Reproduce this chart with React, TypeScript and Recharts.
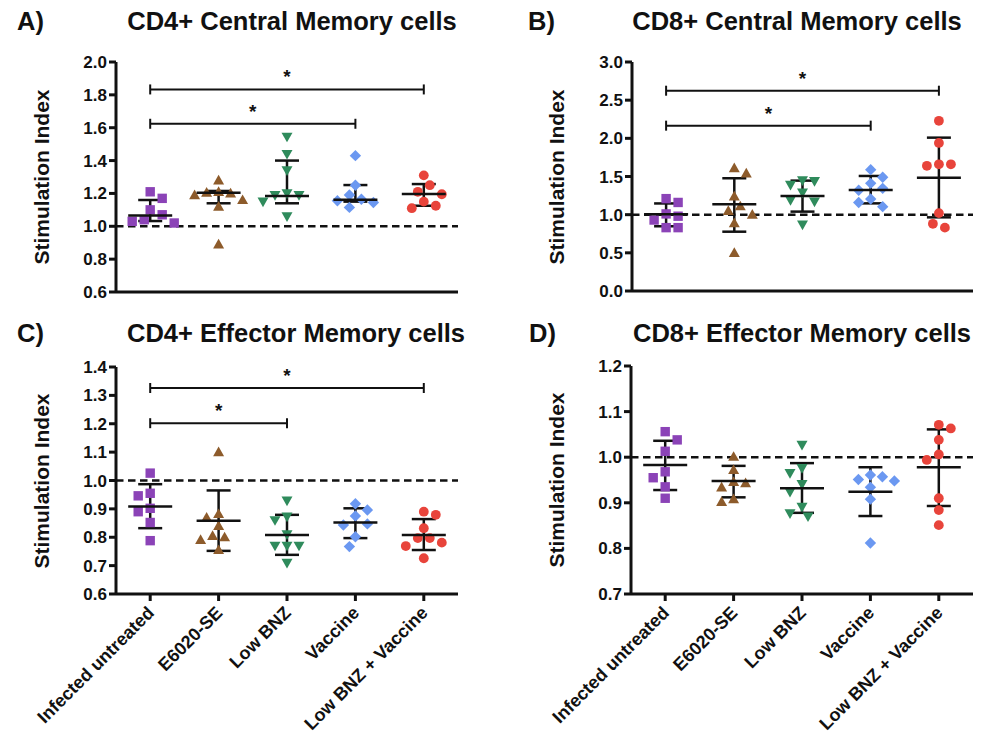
import React from 'react';
import { ScatterChart, Scatter, XAxis, YAxis, ReferenceLine, ErrorBar } from 'recharts';

const FONT = '"Liberation Sans", Arial, Helvetica, sans-serif';
const INK = '#111';

const groups = ['Infected untreated', 'E6020-SE', 'Low BNZ', 'Vaccine', 'Low BNZ + Vaccine'];
const groupColors = ['#8B43B7', '#8D5B2B', '#2F8B5C', '#6B98F1', '#E8443B'];
const groupMarkers = ['square', 'triangle', 'triangleDown', 'diamond', 'circle'];
const groupTicks = [0, 1, 2, 3, 4];

// A) CD4+ central memory
const cd4CmValues = [
  [1.21, 1.17, 1.1, 1.07, 1.04, 1.03, 1.02],
  [1.28, 1.21, 1.205, 1.2, 1.19, 1.16, 1.12, 0.89],
  [1.545, 1.44, 1.34, 1.2, 1.19, 1.19, 1.15, 1.06],
  [1.43, 1.25, 1.19, 1.165, 1.155, 1.145, 1.115],
  [1.31, 1.25, 1.21, 1.195, 1.15, 1.125, 1.11],
];
const cd4CmMean = [1.065, 1.204, 1.184, 1.162, 1.197];
const cd4CmLow = [1.032, 1.14, 1.14, 1.15, 1.125];
const cd4CmHigh = [1.16, 1.215, 1.4, 1.251, 1.257];
const cd4CmTicks = [0.6, 0.8, 1.0, 1.2, 1.4, 1.6, 1.8, 2.0];
const cd4CmBrackets = [
  { from: 0, to: 4, y: 1.833 },
  { from: 0, to: 3, y: 1.624 },
];

// B) CD8+ central memory
const cd8CmValues = [
  [1.21, 1.16, 1.01, 0.98, 0.93, 0.83, 0.83],
  [1.61, 1.54, 1.24, 1.11, 1.05, 1.0, 0.89, 0.5],
  [1.45, 1.44, 1.39, 1.29, 1.19, 1.17, 0.87],
  [1.59, 1.49, 1.41, 1.345, 1.32, 1.205, 1.16, 1.105],
  [2.23, 1.94, 1.66, 1.66, 1.64, 1.02, 0.88, 0.83],
];
const cd8CmMean = [1.005, 1.136, 1.245, 1.323, 1.485];
const cd8CmLow = [0.848, 0.777, 1.04, 1.148, 0.965];
const cd8CmHigh = [1.147, 1.477, 1.446, 1.507, 2.009];
const cd8CmTicks = [0, 0.5, 1.0, 1.5, 2.0, 2.5, 3.0];
const cd8CmBrackets = [
  { from: 0, to: 4, y: 2.624 },
  { from: 0, to: 3, y: 2.166 },
];

// C) CD4+ effector memory
const cd4EmValues = [
  [1.026, 0.955, 0.946, 0.902, 0.89, 0.852, 0.788],
  [1.1, 0.882, 0.869, 0.84, 0.805, 0.8, 0.791, 0.755],
  [0.929, 0.873, 0.86, 0.81, 0.77, 0.77, 0.77, 0.71],
  [0.918, 0.896, 0.875, 0.847, 0.843, 0.802, 0.767],
  [0.89, 0.879, 0.832, 0.797, 0.797, 0.781, 0.769, 0.726],
];
const cd4EmMean = [0.908, 0.858, 0.808, 0.852, 0.808];
const cd4EmLow = [0.832, 0.752, 0.738, 0.797, 0.755];
const cd4EmHigh = [0.987, 0.965, 0.879, 0.902, 0.864];
const cd4EmTicks = [0.6, 0.7, 0.8, 0.9, 1.0, 1.1, 1.2, 1.3, 1.4];
const cd4EmBrackets = [
  { from: 0, to: 4, y: 1.326 },
  { from: 0, to: 2, y: 1.202 },
];

// D) CD8+ effector memory
const cd8EmValues = [
  [1.056, 1.038, 1.013, 0.968, 0.955, 0.935, 0.91],
  [1.001, 0.972, 0.946, 0.943, 0.934, 0.908, 0.902],
  [1.027, 0.976, 0.965, 0.941, 0.924, 0.891, 0.877, 0.87],
  [0.961, 0.957, 0.951, 0.948, 0.934, 0.908, 0.812],
  [1.071, 1.063, 1.038, 1.006, 0.994, 0.91, 0.884, 0.851],
];
const cd8EmMean = [0.983, 0.948, 0.932, 0.924, 0.978];
const cd8EmLow = [0.928, 0.912, 0.878, 0.871, 0.893];
const cd8EmHigh = [1.036, 0.981, 0.987, 0.978, 1.061];
const cd8EmTicks = [0.7, 0.8, 0.9, 1.0, 1.1, 1.2];

// spread points sideways so they don't sit on top of each other (max +-24px)
function swarmOffsets(values: number[], pxPerUnit: number) {
  const minDist = 11;
  const step = 6;
  const order = values.map((_, k) => k).sort((a, b) => values[b] - values[a]);
  const placed: { px: number; py: number }[] = [];
  const dx = values.map(() => 0);
  order.forEach((k, n) => {
    const py = -values[k] * pxPerUnit;
    let best = 0;
    let bestDist = -1;
    for (let s = 0; s <= 8; s++) {
      const mag = Math.ceil(s / 2) * step;
      const cand = s === 0 ? 0 : s % 2 === n % 2 ? mag : -mag;
      const d = placed.reduce((m, p) => Math.min(m, Math.hypot(p.px - cand, p.py - py)), Infinity);
      if (d >= minDist) {
        best = cand;
        break;
      }
      if (d > bestDist) {
        bestDist = d;
        best = cand;
      }
    }
    dx[k] = best;
    placed.push({ px: best, py });
  });
  return dx;
}

const makeMarker = (kind: string, color: string) => (props: any) => {
  const { cx, cy } = props;
  if (cx == null || cy == null) return null;
  if (kind === 'square') return <rect x={cx - 4.7} y={cy - 4.7} width={9.4} height={9.4} fill={color} />;
  if (kind === 'triangle')
    return <polygon points={`${cx},${cy - 5.6} ${cx + 5.5},${cy + 4.1} ${cx - 5.5},${cy + 4.1}`} fill={color} />;
  if (kind === 'triangleDown')
    return <polygon points={`${cx},${cy + 5.6} ${cx + 5.5},${cy - 4.1} ${cx - 5.5},${cy - 4.1}`} fill={color} />;
  if (kind === 'diamond')
    return <polygon points={`${cx},${cy - 5.7} ${cx + 5.7},${cy} ${cx},${cy + 5.7} ${cx - 5.7},${cy}`} fill={color} />;
  return <circle cx={cx} cy={cy} r={4.9} fill={color} />;
};

const MeanLine = (props: any) => {
  const { cx, cy } = props;
  if (cx == null || cy == null) return null;
  return <line x1={cx - 22} x2={cx + 22} y1={cy} y2={cy} stroke={INK} strokeWidth={2.5} />;
};

const SlantTick = (props: any) => {
  const { x, y, payload } = props;
  const ax = x + 5;
  const ay = y + 11;
  return (
    <text
      x={ax}
      y={ay}
      textAnchor="end"
      transform={`rotate(-45 ${ax} ${ay})`}
      fontSize={18}
      fontWeight={700}
      fill={INK}
      fontFamily={FONT}
    >
      {groups[payload.value]}
    </text>
  );
};

type Bracket = { from: number; to: number; y: number };

type PanelProps = {
  letter: string;
  title: string;
  values: number[][];
  mean: number[];
  low: number[];
  high: number[];
  domain: [number, number];
  ticks: number[];
  brackets: Bracket[];
  showLabels: boolean;
  chartLeft: number;
  chartTop: number;
  chartHeight: number;
  plotLeft: number;
  plotTop: number;
  plotRight: number;
  plotBottom: number;
  letterX: number;
  titleX: number;
  titleY: number;
  labelX: number;
};

function Panel(p: PanelProps) {
  const plotW = p.plotRight - p.plotLeft;
  const plotH = p.plotBottom - p.plotTop;
  const pxPerUnit = plotH / (p.domain[1] - p.domain[0]);
  const pxPerGroup = plotW / 5;
  const margin = { top: p.plotTop - p.chartTop, right: 8, bottom: 0, left: 0 };
  const width = p.plotRight - p.chartLeft + 8;
  const xAxisHeight = p.chartHeight - margin.top - plotH;
  const capTick = 5 / pxPerUnit;
  const axisStyle = { stroke: INK, strokeWidth: 3 };

  const summary = groups.map((_, i) => ({
    x: i,
    y: p.mean[i],
    err: [p.mean[i] - p.low[i], p.high[i] - p.mean[i]],
  }));

  return (
    <>
      <div style={{ position: 'absolute', left: p.letterX, top: p.titleY - 12.5, fontSize: 25.5, fontWeight: 700, lineHeight: 1 }}>
        {p.letter}
      </div>
      <div
        style={{
          position: 'absolute',
          left: p.titleX,
          top: p.titleY - 12.5,
          transform: 'translateX(-50%)',
          fontSize: 25.5,
          fontWeight: 700,
          lineHeight: 1,
          whiteSpace: 'nowrap',
        }}
      >
        {p.title}
      </div>
      <div
        style={{
          position: 'absolute',
          left: p.labelX,
          top: (p.plotTop + p.plotBottom) / 2,
          transform: 'translate(-50%, -50%) rotate(-90deg)',
          fontSize: 21,
          fontWeight: 700,
          lineHeight: 1,
          whiteSpace: 'nowrap',
        }}
      >
        Stimulation Index
      </div>
      <div style={{ position: 'absolute', left: p.chartLeft, top: p.chartTop }}>
        <ScatterChart width={width} height={p.chartHeight} margin={margin}>
          <XAxis
            type="number"
            dataKey="x"
            domain={[-0.5, 4.5]}
            ticks={groupTicks}
            interval={0}
            allowDataOverflow
            height={xAxisHeight}
            axisLine={axisStyle}
            tickLine={axisStyle}
            tickSize={7}
            tick={p.showLabels ? <SlantTick /> : false}
          />
          <YAxis
            type="number"
            dataKey="y"
            domain={p.domain}
            ticks={p.ticks}
            interval={0}
            allowDataOverflow
            width={p.plotLeft - p.chartLeft}
            axisLine={axisStyle}
            tickLine={axisStyle}
            tickSize={7}
            tickFormatter={(v: number) => v.toFixed(1)}
            tick={{ fontSize: 17, fontWeight: 700, fill: INK, fontFamily: FONT }}
          />
          <ReferenceLine y={1} stroke={INK} strokeWidth={2.5} strokeDasharray="7.5 4.5" />
          {groups.map((g, i) => {
            const offsets = swarmOffsets(p.values[i], pxPerUnit);
            const data = p.values[i].map((v, k) => ({ x: i + offsets[k] / pxPerGroup, y: v }));
            return (
              <Scatter
                key={g}
                name={g}
                data={data}
                shape={makeMarker(groupMarkers[i], groupColors[i])}
                isAnimationActive={false}
              />
            );
          })}
          <Scatter name="mean" data={summary} shape={MeanLine} isAnimationActive={false}>
            <ErrorBar dataKey="err" direction="y" width={12} stroke={INK} strokeWidth={2.5} isAnimationActive={false} />
          </Scatter>
          {p.brackets.flatMap((b, k) => [
            <ReferenceLine
              key={`h${k}`}
              segment={[
                { x: b.from, y: b.y },
                { x: b.to, y: b.y },
              ]}
              stroke={INK}
              strokeWidth={2}
              label={{ value: '*', position: 'top', offset: 6, fontSize: 19, fontWeight: 700, fill: INK }}
            />,
            <ReferenceLine
              key={`l${k}`}
              segment={[
                { x: b.from, y: b.y - capTick },
                { x: b.from, y: b.y + capTick },
              ]}
              stroke={INK}
              strokeWidth={2}
            />,
            <ReferenceLine
              key={`r${k}`}
              segment={[
                { x: b.to, y: b.y - capTick },
                { x: b.to, y: b.y + capTick },
              ]}
              stroke={INK}
              strokeWidth={2}
            />,
          ])}
        </ScatterChart>
      </div>
    </>
  );
}

export default function App() {
  return (
    <div
      style={{
        position: 'absolute',
        left: 0,
        top: 0,
        width: 987,
        height: 736,
        background: '#fff',
        fontFamily: FONT,
        color: INK,
        overflow: 'hidden',
      }}
    >
      <Panel
        letter="A)"
        title="CD4+ Central Memory cells"
        values={cd4CmValues}
        mean={cd4CmMean}
        low={cd4CmLow}
        high={cd4CmHigh}
        domain={[0.6, 2.0]}
        ticks={cd4CmTicks}
        brackets={cd4CmBrackets}
        showLabels={false}
        chartLeft={0}
        chartTop={0}
        chartHeight={306}
        plotLeft={116}
        plotTop={62}
        plotRight={458}
        plotBottom={292}
        letterX={17}
        titleX={292}
        titleY={21}
        labelX={41}
      />
      <Panel
        letter="B)"
        title="CD8+ Central Memory cells"
        values={cd8CmValues}
        mean={cd8CmMean}
        low={cd8CmLow}
        high={cd8CmHigh}
        domain={[0, 3]}
        ticks={cd8CmTicks}
        brackets={cd8CmBrackets}
        showLabels={false}
        chartLeft={496}
        chartTop={0}
        chartHeight={306}
        plotLeft={632}
        plotTop={62}
        plotRight={973}
        plotBottom={291}
        letterX={528}
        titleX={797}
        titleY={21}
        labelX={556}
      />
      <Panel
        letter="C)"
        title="CD4+ Effector Memory cells"
        values={cd4EmValues}
        mean={cd4EmMean}
        low={cd4EmLow}
        high={cd4EmHigh}
        domain={[0.6, 1.4]}
        ticks={cd4EmTicks}
        brackets={cd4EmBrackets}
        showLabels={true}
        chartLeft={0}
        chartTop={306}
        chartHeight={430}
        plotLeft={116}
        plotTop={367}
        plotRight={458}
        plotBottom={594}
        letterX={17}
        titleX={296}
        titleY={333}
        labelX={41}
      />
      <Panel
        letter="D)"
        title="CD8+ Effector Memory cells"
        values={cd8EmValues}
        mean={cd8EmMean}
        low={cd8EmLow}
        high={cd8EmHigh}
        domain={[0.7, 1.2]}
        ticks={cd8EmTicks}
        brackets={[]}
        showLabels={true}
        chartLeft={496}
        chartTop={306}
        chartHeight={430}
        plotLeft={631}
        plotTop={366}
        plotRight={973}
        plotBottom={594}
        letterX={529}
        titleX={802}
        titleY={333}
        labelX={556}
      />
    </div>
  );
}
